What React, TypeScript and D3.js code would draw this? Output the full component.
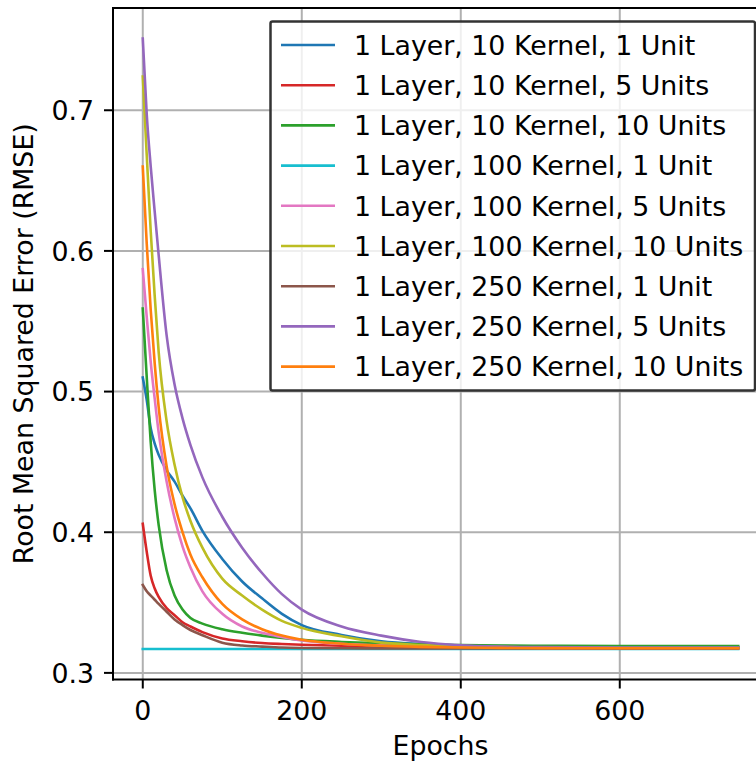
import React from "react";
import * as d3 from "d3";

const epochs = [0, 5, 10, 15, 20, 30, 40, 50, 60, 75, 100, 125, 150, 175, 200, 250, 300, 350, 400, 450, 500, 600, 749];

const k10u1 = [0.510, 0.494, 0.474, 0.463, 0.455, 0.444, 0.436, 0.426, 0.417, 0.401, 0.381, 0.365, 0.353, 0.342, 0.334, 0.327, 0.3225, 0.3205, 0.3195, 0.319, 0.3185, 0.318, 0.318];
const k10u5 = [0.406, 0.386, 0.369, 0.360, 0.354, 0.346, 0.341, 0.336, 0.333, 0.329, 0.3245, 0.3225, 0.3212, 0.3205, 0.320, 0.3193, 0.3188, 0.3185, 0.3183, 0.318, 0.318, 0.318, 0.318];
const k10u10 = [0.559, 0.510, 0.464, 0.430, 0.405, 0.373, 0.355, 0.345, 0.339, 0.335, 0.331, 0.3285, 0.3265, 0.3248, 0.3235, 0.322, 0.321, 0.3203, 0.3198, 0.3195, 0.3193, 0.319, 0.319];
const k100u1 = [0.317, 0.317, 0.317, 0.317, 0.317, 0.317, 0.317, 0.317, 0.317, 0.317, 0.317, 0.317, 0.317, 0.317, 0.317, 0.317, 0.317, 0.317, 0.317, 0.317, 0.317, 0.317, 0.317];
const k100u5 = [0.587, 0.553, 0.521, 0.495, 0.471, 0.436, 0.410, 0.390, 0.375, 0.358, 0.342, 0.333, 0.3285, 0.3255, 0.323, 0.3207, 0.3195, 0.3188, 0.3183, 0.318, 0.3178, 0.3175, 0.3175];
const k100u10 = [0.724, 0.668, 0.614, 0.568, 0.528, 0.479, 0.448, 0.425, 0.408, 0.389, 0.367, 0.355, 0.345, 0.337, 0.332, 0.326, 0.3215, 0.3198, 0.319, 0.3185, 0.318, 0.3178, 0.3178];
const k250u1 = [0.3625, 0.358, 0.355, 0.352, 0.349, 0.3435, 0.338, 0.334, 0.3305, 0.3268, 0.3215, 0.3195, 0.3187, 0.318, 0.3177, 0.3175, 0.3174, 0.3173, 0.3173, 0.3173, 0.3173, 0.3173, 0.3173];
const k250u5 = [0.751, 0.697, 0.660, 0.628, 0.597, 0.540, 0.505, 0.481, 0.462, 0.439, 0.411, 0.389, 0.371, 0.356, 0.345, 0.333, 0.3265, 0.322, 0.3197, 0.3187, 0.3183, 0.318, 0.318];
const k250u10 = [0.660, 0.605, 0.558, 0.520, 0.489, 0.447, 0.420, 0.400, 0.384, 0.368, 0.349, 0.338, 0.331, 0.3265, 0.3235, 0.3207, 0.3193, 0.3185, 0.318, 0.3178, 0.3176, 0.3175, 0.3175];

const labels = [
  "1 Layer, 10 Kernel, 1 Unit",
  "1 Layer, 10 Kernel, 5 Units",
  "1 Layer, 10 Kernel, 10 Units",
  "1 Layer, 100 Kernel, 1 Unit",
  "1 Layer, 100 Kernel, 5 Units",
  "1 Layer, 100 Kernel, 10 Units",
  "1 Layer, 250 Kernel, 1 Unit",
  "1 Layer, 250 Kernel, 5 Units",
  "1 Layer, 250 Kernel, 10 Units",
];
const colors = ["#1f77b4", "#d62728", "#2ca02c", "#17becf", "#e377c2", "#bcbd22", "#8c564b", "#9467bd", "#ff7f0e"];
const seriesValues = [k10u1, k10u5, k10u10, k100u1, k100u5, k100u10, k250u1, k250u5, k250u10];

const xTicks = [0, 200, 400, 600];
const yTicks = [0.3, 0.4, 0.5, 0.6, 0.7];

const W = 756;
const H = 765;
const FONT = "DejaVu Sans, sans-serif";
const FS = 26.8;

export default function App() {
  const allVals = seriesValues.flat();
  const [ymin, ymax] = d3.extent(allVals) as [number, number];
  const ypad = (ymax - ymin) * 0.05;
  const xpad = (epochs[epochs.length - 1] - epochs[0]) * 0.05;

  const x = d3.scaleLinear().domain([epochs[0] - xpad, epochs[epochs.length - 1] + xpad]).range([113, 768]);
  const y = d3.scaleLinear().domain([ymin - ypad, ymax + ypad]).range([679.5, 8]);

  const [x0, x1] = x.range();
  const [yb, yt] = y.range();

  const line = d3
    .line<number>()
    .x((_, i) => x(epochs[i]))
    .y(d => y(d))
    .curve(d3.curveMonotoneX);

  // legend layout
  const lgLeft = 270.5;
  const lgTop = 21.5;
  const lgRight = 755;
  const rowH = 40.2;
  const lgBottom = lgTop + 23.5 + rowH * (labels.length - 1) + 24;

  return (
    <svg width={W} height={H} style={{ position: "absolute", left: 0, top: 0 }} fontFamily={FONT}>
      <rect width={W} height={H} fill="#fff" />
      <defs>
        <clipPath id="plot">
          <rect x={x0} y={yt} width={x1 - x0} height={yb - yt} />
        </clipPath>
      </defs>

      {/* grid */}
      {xTicks.map(t => (
        <line key={"gx" + t} x1={x(t)} x2={x(t)} y1={yt} y2={yb} stroke="#b0b0b0" strokeWidth={2} />
      ))}
      {yTicks.map(t => (
        <line key={"gy" + t} x1={x0} x2={x1} y1={y(t)} y2={y(t)} stroke="#b0b0b0" strokeWidth={2} />
      ))}

      {/* series */}
      <g clipPath="url(#plot)">
        {seriesValues.map((vals, i) => (
          <path key={labels[i]} d={line(vals) || ""} fill="none" stroke={colors[i]} strokeWidth={2.6} strokeLinejoin="round" strokeLinecap="square" />
        ))}
      </g>

      {/* spines */}
      <line x1={x0} x2={x0} y1={yt} y2={yb} stroke="#000" strokeWidth={2} strokeLinecap="square" />
      <line x1={x0} x2={x1} y1={yb} y2={yb} stroke="#000" strokeWidth={2} strokeLinecap="square" />
      <line x1={x0} x2={x1} y1={yt} y2={yt} stroke="#000" strokeWidth={2} strokeLinecap="square" />

      {/* x ticks */}
      {xTicks.map(t => (
        <g key={"xt" + t}>
          <line x1={x(t)} x2={x(t)} y1={yb} y2={yb + 9} stroke="#000" strokeWidth={2} />
          <text x={x(t)} y={720} textAnchor="middle" fontSize={FS} fill="#000">{t}</text>
        </g>
      ))}
      {/* y ticks */}
      {yTicks.map(t => (
        <g key={"yt" + t}>
          <line x1={x0 - 9} x2={x0} y1={y(t)} y2={y(t)} stroke="#000" strokeWidth={2} />
          <text x={94} y={y(t) + 9.7} textAnchor="end" fontSize={FS} fill="#000">{t.toFixed(1)}</text>
        </g>
      ))}

      <text x={(x0 + x1) / 2} y={755} textAnchor="middle" fontSize={FS} fill="#000">Epochs</text>
      <text transform={`translate(33,${(yt + yb) / 2}) rotate(-90)`} textAnchor="middle" fontSize={FS} fill="#000">
        Root Mean Squared Error (RMSE)
      </text>

      {/* legend */}
      <rect x={lgLeft} y={lgTop} width={lgRight - lgLeft} height={lgBottom - lgTop} rx={2} fill="#fff" fillOpacity={0.8} stroke="#333" strokeWidth={2.5} />
      {labels.map((lab, i) => {
        const cy = lgTop + 23.5 + i * rowH;
        return (
          <g key={"lg" + i}>
            <line x1={281} x2={335} y1={cy} y2={cy} stroke={colors[i]} strokeWidth={2.6} />
            <text x={354} y={cy + 9.7} fontSize={FS} fill="#000">{lab}</text>
          </g>
        );
      })}
    </svg>
  );
}
